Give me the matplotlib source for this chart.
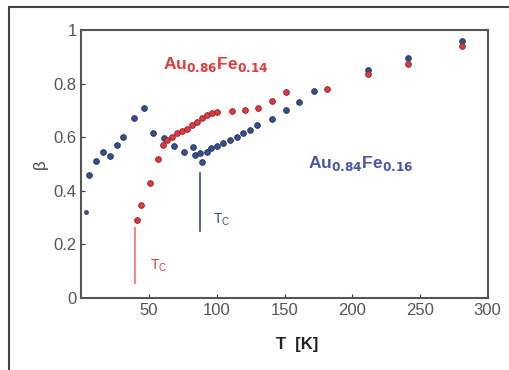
#beta vs temperature for two AuFe alloys
import numpy as np
import matplotlib.pyplot as plt
from matplotlib.patches import Rectangle

plt.rcParams['font.family'] = ['Liberation Sans', 'DejaVu Sans']

#Au0.84Fe0.16 (blue)
blue_T = [3.3, 5.5, 11, 16, 21, 26, 31, 38.5, 46, 53, 61, 68.5, 76, 82.6, 83.8, 87.5,
          88.8, 92.5, 96, 100, 104.7, 109.7, 114.6, 119.5, 124.5, 130, 140.5, 151, 161,
          171.5, 212, 241, 281]
blue_b = [0.32, 0.46, 0.51, 0.545, 0.53, 0.57, 0.60, 0.672, 0.707, 0.614, 0.595, 0.568,
          0.545, 0.564, 0.533, 0.539, 0.508, 0.545, 0.558, 0.567, 0.577, 0.589, 0.601,
          0.614, 0.626, 0.645, 0.666, 0.70, 0.73, 0.773, 0.85, 0.897, 0.957]
#Au0.86Fe0.14 (red)
red_T = [41.4, 44.2, 51, 56.2, 60.4, 63, 66.6, 70.3, 74, 77.7, 81.4, 85.1, 88.8, 92.5,
         96.2, 100, 110.9, 120.8, 130.6, 140.5, 150.8, 181, 211.5, 241, 281]
red_b = [0.29, 0.346, 0.428, 0.517, 0.57, 0.589, 0.60, 0.614, 0.622, 0.632, 0.645, 0.657,
         0.67, 0.682, 0.69, 0.694, 0.697, 0.702, 0.71, 0.736, 0.77, 0.78, 0.835, 0.872, 0.94]
#Tc markers
tc_red = 39.4
tc_blue = 87.5

fig = plt.figure(figsize=(5.09, 3.70), dpi=100)
fig.patches.append(Rectangle((0.018, -0.1), 1.2, 1.082, transform=fig.transFigure,
                             fill=False, edgecolor='#444444', linewidth=1.5))
ax = fig.add_axes([0.160, 0.195, 0.798, 0.724])

#first blue point is drawn smaller in the original
ax.scatter(blue_T[:1], blue_b[:1], s=8, color='#34508f', edgecolor='#2a3050', linewidth=0.5, zorder=3)
ax.scatter(blue_T[1:], blue_b[1:], s=17, color='#34508f', edgecolor='#2a3050', linewidth=0.6, zorder=3)
ax.scatter(red_T, red_b, s=17, color='#e03a3a', edgecolor='#8a2030', linewidth=0.6, zorder=3)

ax.plot([tc_red, tc_red], [0.055, 0.26], color='#f08a8a', lw=1.5)
ax.plot([tc_blue, tc_blue], [0.25, 0.465], color='#3a4a70', lw=1.2)
ax.text(51, 0.12, r'T$_\mathregular{C}$', color='#e04040', fontsize=10, va='center')
ax.text(97, 0.29, r'T$_\mathregular{C}$', color='#34508f', fontsize=10, va='center')

ax.text(60, 0.87, r'Au$_\mathbf{0.86}$Fe$_\mathbf{0.14}$', color='#e03a3a',
        fontsize=12.5, fontweight='bold', va='center')
ax.text(167, 0.50, r'Au$_\mathbf{0.84}$Fe$_\mathbf{0.16}$', color='#4a55a8',
        fontsize=12.5, fontweight='bold', va='center')

ax.set_xlim(0, 300)
ax.set_ylim(0, 1)
ax.set_xticks([50, 100, 150, 200, 250, 300])
ax.set_yticks([0, 0.2, 0.4, 0.6, 0.8, 1])
ax.set_yticklabels(['0', '0.2', '0.4', '0.6', '0.8', '1'])
ax.tick_params(direction='in', length=3, labelsize=12, labelcolor='#555555', color='#333333')
for s in ax.spines.values():
    s.set_linewidth(1.5)
    s.set_color('#555555')
ax.set_xlabel('T  [K]', fontsize=12, fontweight='bold', color='#222222')
ax.xaxis.set_label_coords(0.53, -0.145)
ax.set_ylabel('β', fontsize=12, color='#444444')

plt.savefig('out.png', dpi=100)
